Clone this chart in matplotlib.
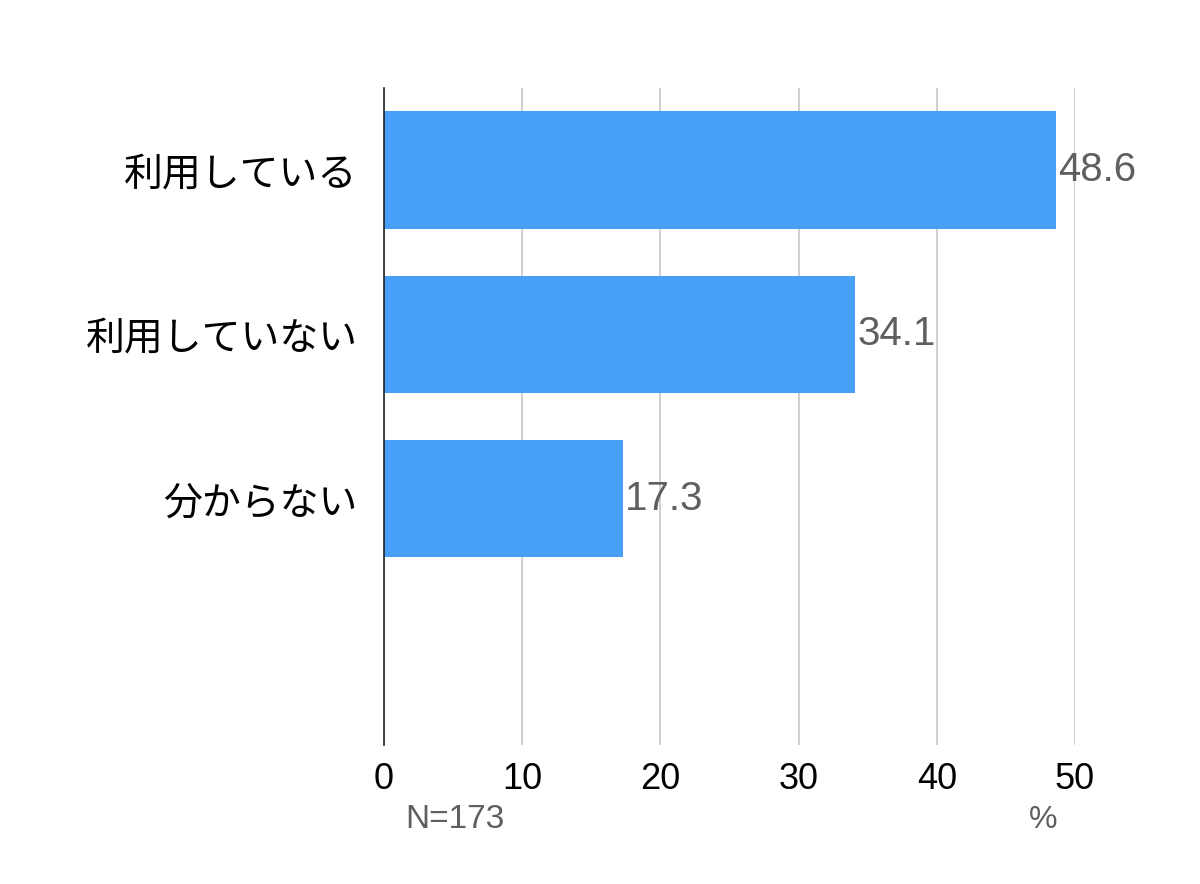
import matplotlib
matplotlib.use("Agg")
import matplotlib.pyplot as plt

plt.rcParams["font.family"] = ["Noto Sans CJK JP", "DejaVu Sans"]
num_font = ["Liberation Sans", "DejaVu Sans"]

categories = ["利用している", "利用していない", "分からない", ""]
values = [48.6, 34.1, 17.3]
x_ticks = [0, 10, 20, 30, 40, 50]
sample_note = "N=173"
unit_note = "%"

bar_color = "#479ff8"
label_color = "#5f5f5f"

fig = plt.figure(figsize=(12, 8.84), dpi=100)
ax = fig.add_axes([0.32, 0.157, 0.5758, 0.7435])

positions = list(range(len(categories)))
bars = ax.barh(positions[:len(values)], values, height=0.715, color=bar_color, zorder=2)

ax.set_ylim(len(categories) - 0.5, -0.5)
ax.set_xlim(0, 50)
ax.set_yticks(positions)
ax.set_yticklabels(categories, fontsize=28)
ax.set_xticks(x_ticks)
ax.set_xticklabels([str(t) for t in x_ticks], fontsize=26, family=num_font)
ax.tick_params(axis="both", length=0)
ax.tick_params(axis="y", pad=19)
ax.tick_params(axis="x", pad=12)

ax.grid(axis="x", color="#c8c8c8", linewidth=1.2, zorder=0)
for side in ["top", "right", "bottom"]:
    ax.spines[side].set_visible(False)
ax.spines["left"].set_color("#222222")
ax.spines["left"].set_linewidth(1.2)
ax.spines["left"].set_zorder(3)

# value labels at the bar ends
for bar, v in zip(bars, values):
    ax.text(bar.get_width() + 0.15, bar.get_y() + bar.get_height() / 2, f"{v:.1f}",
            ha="left", va="center", fontsize=29, color=label_color, family=num_font)

fig.text(405 / 1200, 1 - 820 / 884, sample_note, ha="left", va="center",
         fontsize=24, color=label_color, family=num_font)
fig.text(1043 / 1200, 1 - 820 / 884, unit_note, ha="center", va="center",
         fontsize=23, color=label_color, family=num_font)

fig.savefig("out.png", dpi=100, facecolor="white")
